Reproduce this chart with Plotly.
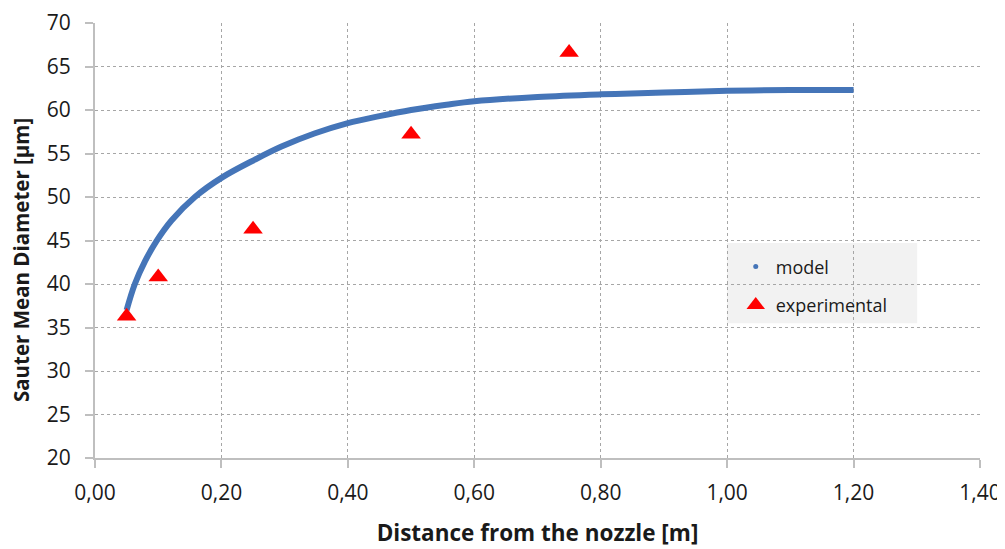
import plotly.graph_objects as go

# Model curve
model_x = [0.05, 0.063, 0.079, 0.097, 0.121, 0.158, 0.2, 0.253, 0.295, 0.347, 0.4,
           0.45, 0.5, 0.556, 0.6, 0.7, 0.8, 0.9, 1.0, 1.1, 1.2]
model_y = [37.0, 40.0, 42.6, 44.9, 47.3, 50.0, 52.2, 54.3, 55.8, 57.3, 58.5,
           59.3, 60.0, 60.6, 61.0, 61.5, 61.8, 62.0, 62.2, 62.3, 62.3]

# Experimental points
exp_x = [0.05, 0.10, 0.25, 0.50, 0.75]
exp_y = [36.3, 40.8, 46.3, 57.2, 66.6]

x_ticks = [0.0, 0.2, 0.4, 0.6, 0.8, 1.0, 1.2, 1.4]
x_tick_labels = ["0,00", "0,20", "0,40", "0,60", "0,80", "1,00", "1,20", "1,40"]
y_ticks = [20, 25, 30, 35, 40, 45, 50, 55, 60, 65, 70]

FONT = "Open Sans"
BLUE = "#4575b8"
TXT = "#1a1a1a"

fig = go.Figure()
fig.add_trace(go.Scatter(x=model_x, y=model_y, mode="lines",
                         line=dict(color=BLUE, width=6, shape="spline"),
                         showlegend=False, hoverinfo="skip"))
fig.add_trace(go.Scatter(x=[None], y=[None], mode="markers", name="model",
                         marker=dict(color=BLUE, size=5), legendgroup="a"))
fig.add_trace(go.Scatter(x=exp_x, y=exp_y, mode="markers", name="experimental",
                         marker=dict(color="#ff0000", symbol="triangle-up", size=17),
                         legendgroup="b"))

axis_common = dict(
    showline=True, linecolor="#bfbfbf", linewidth=2,
    ticks="outside", ticklen=8, tickcolor="#bfbfbf", tickwidth=1.5,
    showgrid=True, gridcolor="#a6a6a6", griddash="3px,3px", gridwidth=1,
    zeroline=False, automargin=False,
    tickfont=dict(family=FONT, size=21, color=TXT),
)

# page body has an 8px default margin: figure is sized/offset to compensate
fig.update_layout(
    width=997, height=541,
    margin=dict(l=87, r=25, t=15, b=91),
    paper_bgcolor="white", plot_bgcolor="white",
    xaxis=dict(range=[0, 1.4], tickvals=x_ticks, ticktext=x_tick_labels,
               ticklabelstandoff=7,
               title=dict(text="<b>Distance from the nozzle [m]</b>",
                          font=dict(family=FONT, size=22.5, color=TXT), standoff=20),
               **axis_common),
    yaxis=dict(range=[20, 70], tickvals=y_ticks, ticklabelstandoff=10,
               **axis_common),
    legend=dict(x=0.724, y=0.482, xanchor="left", yanchor="top",
                bgcolor="rgba(0,0,0,0)", font=dict(family=FONT, size=18, color=TXT),
                traceorder="grouped", tracegroupgap=12, itemwidth=30),
    shapes=[dict(type="rect", xref="paper", yref="paper",
                 x0=0.714, x1=0.929, y0=0.31, y1=0.494,
                 fillcolor="#f2f2f2", line=dict(width=0), layer="below")],
    annotations=[dict(text="<b>Sauter Mean Diameter [µm]</b>", textangle=-90,
                      xref="paper", yref="paper", x=0, y=0.455,
                      xanchor="center", yanchor="middle", xshift=-74,
                      showarrow=False, font=dict(family=FONT, size=20.5, color=TXT))],
)

fig.write_html("out.html")
